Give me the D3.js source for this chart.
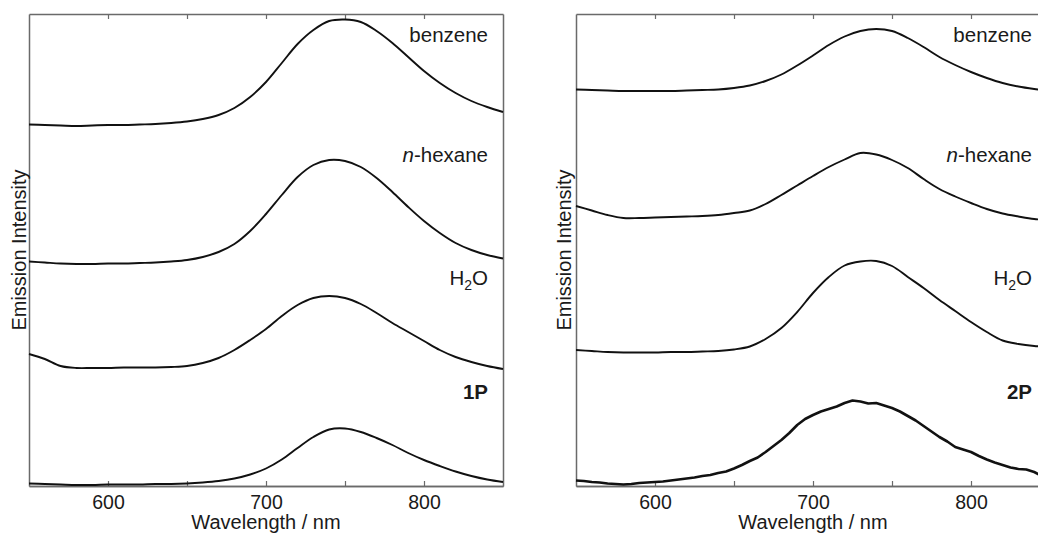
<!DOCTYPE html>
<html>
<head>
<meta charset="utf-8">
<script src="https://cdn.jsdelivr.net/npm/d3@7/dist/d3.min.js"></script>
<style>
  body { margin: 0; background: #fff; }
  text { font-family: "Liberation Sans", Arial, sans-serif; fill: #1a1a1a; }
</style>
</head>
<body>
<svg id="chart" width="1038" height="534"></svg>
<script>
// wavelength grids (nm)
const wl10 = d3.range(550, 851, 10);
const wl5 = d3.range(550, 851, 5);

// emission spectra, stacked as plotted (arbitrary units)
const leftBenzene = [361.5,361,360.5,360,360.5,361,361,361.5,362,363,364.5,367,371,378,389,404,423,442,456,465,466.5,464,455,443,429,415,403,393,385,379,374];
const leftHexane = [224.5,223.5,222.5,222,222,222.5,222.5,223,223.5,224.5,226,229,234,242,255,272,291,309,321,326,325,319,308,294,279,265,253,243,236,231,227.5];
const leftWater = [132,127,120,118,118,118,118.5,118.5,118.5,119,120,123,128,136,146,157,170,181,188,190,188,182,173,163,154,145,136,129,124,120,117];
const left1P = [2.5,2,1.5,1,1,1.5,1.5,1.5,2,2,2.5,3.5,5,7.5,11.5,17.5,26.5,38,49,56.5,57.5,54,48,41,33,26,20,14.5,10,6.5,4];

const rightBenzene = [396.5,396,395.5,395,395,395,395,395.5,396,396.5,398,400.5,405,411.5,420.5,430.5,441,449.5,455,457,455,448,439,429,421,414,408,403,399.5,397,395];
const rightHexane = [280,275.5,271,268,268,268.5,269,269.5,270,271,273,275.5,282,291,300.5,310,319,326.5,333,331.5,326,318,307,297,289.5,283,277,272.5,269.5,267,266];
const rightWater = [136,135,134,133.5,133.5,133.5,134,134,134.5,135,136.5,139.5,147,158,174,193,209,220.5,224.5,225,220,209,198,186,175,164,154,145.5,142,140,139];
const right2P = [5.5,5,4,3.5,2.5,2,1.5,2,3,3.5,4,4.5,5.5,6.5,7.5,8.5,10,11,13,14.5,17.5,21,25,28.5,34,40,46,53,61,67,71,74.5,77,79.5,83,85.5,84.5,82.5,83,80.5,78,74.5,70,65.5,60,54.5,49,44.5,39,36.5,34,30,26.5,23.5,21,18.5,17,16.5,14,10,7];

const majorTicks = [600, 700, 800];
const minorTicks = [650, 750];
const leftNames = ["benzene", "n-hexane", "H2O", "1P"];
const rightNames = ["benzene", "n-hexane", "H2O", "2P"];

const svg = d3.select("#chart");
const plotTop = 14, plotBottom = 486;

const panels = [
  { x0: 29, x1: 503, labelX: 488, titleX: 26, names: leftNames,
    series: [[wl10, leftBenzene], [wl10, leftHexane], [wl10, leftWater], [wl10, left1P]], boxRight: true },
  { x0: 576, x1: 1050, labelX: 1032, titleX: 571, names: rightNames,
    series: [[wl10, rightBenzene], [wl10, rightHexane], [wl10, rightWater], [wl5, right2P]], boxRight: false }
];
const labelY = [41.5, 162, 284.5, 398.5];

panels.forEach(function (p) {
  const x = d3.scaleLinear().domain([550, 850]).range([p.x0, p.x1]);
  const y = d3.scaleLinear().domain([0, 472]).range([plotBottom, plotTop]);
  const g = svg.append("g");

  // bottom axis with labels
  const xb = g.append("g").attr("transform", "translate(0," + plotBottom + ")")
    .call(d3.axisBottom(x).tickValues(majorTicks).tickSize(-5).tickPadding(9).tickSizeOuter(0));
  g.append("g").attr("transform", "translate(0," + plotBottom + ")")
    .call(d3.axisBottom(x).tickValues(minorTicks).tickSize(-5).tickFormat("").tickSizeOuter(0));
  // top axis
  g.append("g").attr("transform", "translate(0," + plotTop + ")")
    .call(d3.axisTop(x).tickValues(majorTicks.concat(minorTicks)).tickSize(-5).tickFormat("").tickSizeOuter(0));
  // left axis
  g.append("g").attr("transform", "translate(" + p.x0 + ",0)")
    .call(d3.axisLeft(y).tickValues([]).tickSizeOuter(0));
  if (p.boxRight) {
    g.append("g").attr("transform", "translate(" + p.x1 + ",0)")
      .call(d3.axisRight(y).tickValues([]).tickSizeOuter(0));
  }
  g.selectAll(".domain").attr("stroke", "#6a6a6a").attr("stroke-width", 1.5);
  g.selectAll(".tick line").attr("stroke", "#6a6a6a").attr("stroke-width", 1.2);
  xb.selectAll(".tick text").attr("font-size", 19.5).attr("font-family", "Liberation Sans, Arial, sans-serif").attr("fill", "#1a1a1a");

  // curves
  const smooth = d3.line()
    .x(function (d) { return x(d[0]); })
    .y(function (d) { return y(d[1]); })
    .curve(d3.curveCatmullRom.alpha(0.5));
  const rough = d3.line()
    .x(function (d) { return x(d[0]); })
    .y(function (d) { return y(d[1]); });
  p.series.forEach(function (s) {
    const noisy = s[0] === wl5;
    g.append("path")
      .datum(d3.zip(s[0], s[1]))
      .attr("fill", "none")
      .attr("stroke", "#111")
      .attr("stroke-width", noisy ? 2.6 : 1.9)
      .attr("stroke-linejoin", "round")
      .attr("d", noisy ? rough : smooth);
  });

  // series labels
  p.names.forEach(function (name, i) {
    const t = g.append("text")
      .attr("x", p.labelX).attr("y", labelY[i])
      .attr("text-anchor", "end").attr("font-size", 20.5);
    if (name === "n-hexane") {
      t.append("tspan").attr("font-style", "italic").text("n");
      t.append("tspan").text("-hexane");
    } else if (name === "H2O") {
      t.append("tspan").text("H");
      t.append("tspan").attr("font-size", 14).attr("dy", 5).text("2");
      t.append("tspan").attr("dy", -5).text("O");
    } else if (name === "1P" || name === "2P") {
      t.attr("font-weight", "bold").text(name);
    } else {
      t.text(name);
    }
  });

  // axis titles
  g.append("text")
    .attr("x", p.x0 + (503 - 29) / 2).attr("y", 529)
    .attr("text-anchor", "middle").attr("font-size", 20)
    .text("Wavelength / nm");
  g.append("text")
    .attr("transform", "translate(" + p.titleX + "," + ((plotTop + plotBottom) / 2) + ") rotate(-90)")
    .attr("text-anchor", "middle").attr("font-size", 20)
    .text("Emission Intensity");
});
</script>
</body>
</html>
